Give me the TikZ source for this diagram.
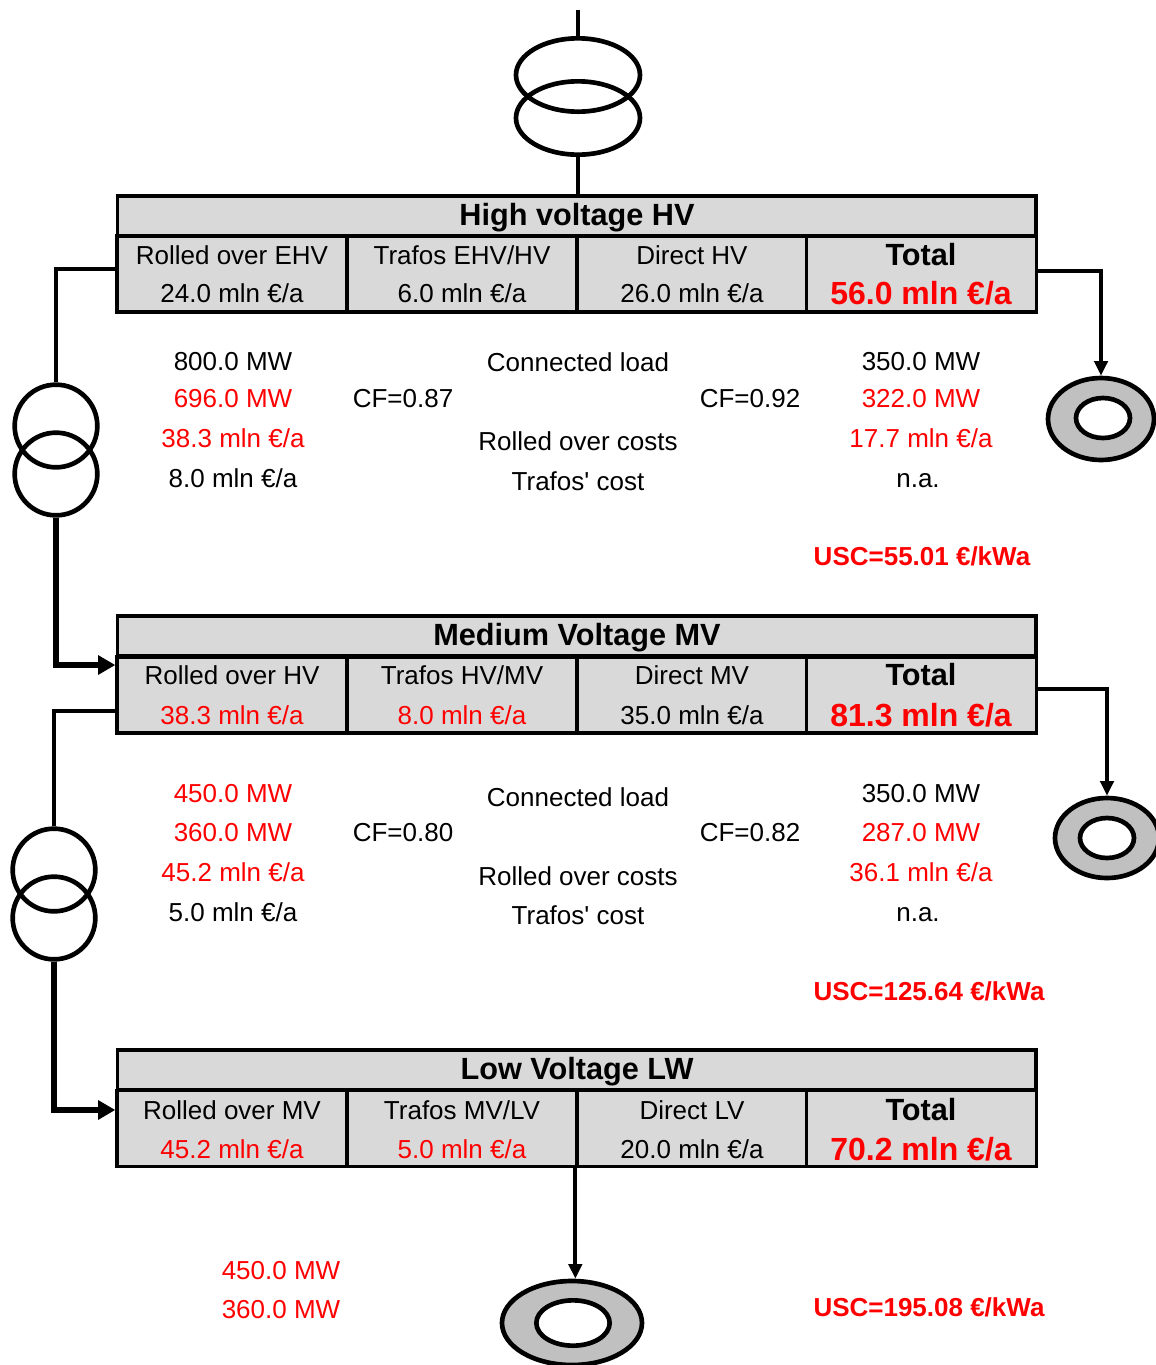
\documentclass[tikz,border=0pt]{standalone}
\usepackage{fontspec}
\setmainfont{Liberation Sans}
\usetikzlibrary{arrows.meta,shapes.geometric}

\definecolor{cellgray}{HTML}{D9D9D9}
\definecolor{loadgray}{HTML}{C0C0C0}
\definecolor{costred}{HTML}{FF0000}

\tikzset{
  wire/.style={line width=3.2pt},
  feedwire/.style={line width=4.2pt, -{Triangle[length=13pt,width=14pt]}},
  loadwire/.style={line width=3.2pt, -{Triangle[length=11pt,width=10pt]}},
  title/.style={draw, fill=cellgray, line width=2.5pt, minimum width=689pt, minimum height=30pt, inner sep=0pt},
  cell/.style={draw, fill=cellgray, line width=2.5pt, minimum width=172.5pt, minimum height=57pt, inner sep=0pt},
  trafo/.style={draw, circle, line width=3.5pt, minimum size=62pt, inner sep=0pt},
  toptrafo/.style={draw, ellipse, line width=3.5pt, minimum width=93pt, minimum height=55pt, inner sep=0pt},
  loadout/.style={draw, ellipse, fill=loadgray, line width=3.5pt, inner sep=0pt},
  loadin/.style={draw, ellipse, fill=white, line width=3.5pt, inner sep=0pt},
  txt/.style={font=\fontsize{19.5}{22}\selectfont, inner sep=0pt},
  red txt/.style={txt, text=costred},
  head/.style={font=\fontsize{23}{26}\selectfont\bfseries, inner sep=0pt},
  total/.style={font=\fontsize{24}{27}\selectfont\bfseries, inner sep=0pt, text=costred},
  usc/.style={font=\fontsize{19.5}{22}\selectfont\bfseries, inner sep=0pt, text=costred}
}

\begin{document}
\begin{tikzpicture}[x=0.75pt,y=-0.75pt]
  \useasboundingbox (0,0) rectangle (1156,1365);

  % supply from EHV
  \coordinate (feed) at (578,10);
  \node[toptrafo] (t0a) at (578,75) {};
  \node[toptrafo] (t0b) at (578,118) {};

  % high voltage table
  \node[title] (hvT) at (576.5,216) {};
  \node[cell] (hv1) at (232,274) {};
  \node[cell] (hv2) at (462,274) {};
  \node[cell] (hv3) at (692,274) {};
  \node[cell] (hv4) at (921.5,274) {};
  \node[head] (hvname) at (577,218) {High voltage HV};
  \node[txt] (hv1a) at (232,255) {Rolled over EHV};
  \node[txt] (hv1b) at (232,293) {24.0 mln €/a};
  \node[txt] (hv2a) at (462,255) {Trafos EHV/HV};
  \node[txt] (hv2b) at (462,293) {6.0 mln €/a};
  \node[txt] (hv3a) at (692,255) {Direct HV};
  \node[txt] (hv3b) at (692,293) {26.0 mln €/a};
  \node[head] (hv4a) at (921,255) {Total};
  \node[total] (hv4b) at (921,293) {56.0 mln €/a};

  \draw[wire] (feed) -- (t0a.north);
  \draw[wire] (t0b.south) -- (t0b.south |- hvT.north);

  % HV/MV transformer and HV load
  \node[trafo] (t1a) at (56,426) {};
  \node[trafo] (t1b) at (56,474) {};
  \node[loadout, minimum width=79.5pt, minimum height=61.5pt] (load1) at (1101,419) {};
  \node[loadin, minimum width=40.5pt, minimum height=30pt] (load1i) at (1103,418) {};

  \draw[wire] ([yshift=3.75pt]hv1.west) -| (t1a.north);
  \draw[loadwire] ([yshift=2pt]hv4.east) -| (load1.north);

  \node[txt] (hvP) at (233,362) {800.0 MW};
  \node[red txt] (hvQ) at (233,399) {696.0 MW};
  \node[red txt] (hvR) at (233,438) {38.3 mln €/a};
  \node[txt] (hvS) at (233,478) {8.0 mln €/a};
  \node[txt] (hvCF1) at (403,399) {CF=0.87};
  \node[txt] (hvL1) at (578,362) {Connected load};
  \node[txt] (hvL2) at (578,441) {Rolled over costs};
  \node[txt] (hvL3) at (578,481) {Trafos\textquotesingle{} cost};
  \node[txt] (hvCF2) at (750,399) {CF=0.92};
  \node[txt] (hvP2) at (921,362) {350.0 MW};
  \node[red txt] (hvQ2) at (921,399) {322.0 MW};
  \node[red txt] (hvR2) at (921,438) {17.7 mln €/a};
  \node[txt] (hvS2) at (918,481) {n.a.};
  \node[usc] (hvUSC) at (922,556) {USC=55.01 €/kWa};

  % medium voltage table
  \node[title] (mvT) at (576.5,636) {};
  \node[cell] (mv1) at (232,695) {};
  \node[cell] (mv2) at (462,695) {};
  \node[cell] (mv3) at (692,695) {};
  \node[cell] (mv4) at (921.5,695) {};
  \node[head] (mvname) at (577,638) {Medium Voltage MV};
  \node[txt] (mv1a) at (232,675) {Rolled over HV};
  \node[red txt] (mv1b) at (232,715) {38.3 mln €/a};
  \node[txt] (mv2a) at (462,675) {Trafos HV/MV};
  \node[red txt] (mv2b) at (462,715) {8.0 mln €/a};
  \node[txt] (mv3a) at (692,675) {Direct MV};
  \node[txt] (mv3b) at (692,715) {35.0 mln €/a};
  \node[head] (mv4a) at (921,675) {Total};
  \node[total] (mv4b) at (921,715) {81.3 mln €/a};

  \draw[feedwire] (t1b.south) |- ([yshift=22.5pt]mv1.west);

  % MV/LV transformer and MV load
  \node[trafo] (t2a) at (54,870) {};
  \node[trafo] (t2b) at (54,918) {};
  \node[loadout, minimum width=78pt, minimum height=60pt] (load2) at (1107,838) {};
  \node[loadin, minimum width=40.5pt, minimum height=30pt] (load2i) at (1107,838) {};

  \draw[wire] ([yshift=-12pt]mv1.west) -| (t2a.north);
  \draw[loadwire] ([yshift=4.5pt]mv4.east) -| (load2.north);

  \node[red txt] (mvP) at (233,794) {450.0 MW};
  \node[red txt] (mvQ) at (233,833) {360.0 MW};
  \node[red txt] (mvR) at (233,872) {45.2 mln €/a};
  \node[txt] (mvS) at (233,912) {5.0 mln €/a};
  \node[txt] (mvCF1) at (403,833) {CF=0.80};
  \node[txt] (mvL1) at (578,797) {Connected load};
  \node[txt] (mvL2) at (578,876) {Rolled over costs};
  \node[txt] (mvL3) at (578,915) {Trafos\textquotesingle{} cost};
  \node[txt] (mvCF2) at (750,833) {CF=0.82};
  \node[txt] (mvP2) at (921,794) {350.0 MW};
  \node[red txt] (mvQ2) at (921,833) {287.0 MW};
  \node[red txt] (mvR2) at (921,872) {36.1 mln €/a};
  \node[txt] (mvS2) at (918,915) {n.a.};
  \node[usc] (mvUSC) at (929,991) {USC=125.64 €/kWa};

  % low voltage table
  \node[title] (lvT) at (576.5,1070) {};
  \node[cell] (lv1) at (232,1128.5) {};
  \node[cell] (lv2) at (462,1128.5) {};
  \node[cell] (lv3) at (692,1128.5) {};
  \node[cell] (lv4) at (921.5,1128.5) {};
  \node[head] (lvname) at (577,1072) {Low Voltage LW};
  \node[txt] (lv1a) at (232,1110) {Rolled over MV};
  \node[red txt] (lv1b) at (232,1149) {45.2 mln €/a};
  \node[txt] (lv2a) at (462,1110) {Trafos MV/LV};
  \node[red txt] (lv2b) at (462,1149) {5.0 mln €/a};
  \node[txt] (lv3a) at (692,1110) {Direct LV};
  \node[txt] (lv3b) at (692,1149) {20.0 mln €/a};
  \node[head] (lv4a) at (921,1110) {Total};
  \node[total] (lv4b) at (921,1149) {70.2 mln €/a};

  \draw[feedwire] (t2b.south) |- ([yshift=13.9pt]lv1.west);

  % LV load
  \node[loadout, minimum width=105pt, minimum height=63pt] (load3) at (572,1323) {};
  \node[loadin, minimum width=55pt, minimum height=34pt] (load3i) at (573,1323) {};
  \draw[loadwire] (lv3.south west) -- (lv3.south west |- load3.north);

  \node[red txt] (lvP) at (281,1271) {450.0 MW};
  \node[red txt] (lvQ) at (281,1310) {360.0 MW};
  \node[usc] (lvUSC) at (929,1307) {USC=195.08 €/kWa};

\end{tikzpicture}
\end{document}
